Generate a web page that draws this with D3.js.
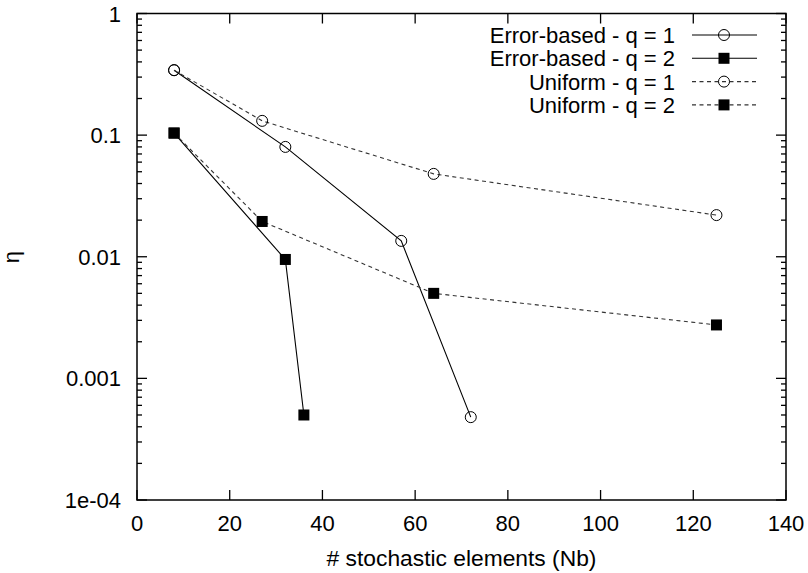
<!DOCTYPE html>
<html>
<head>
<meta charset="utf-8">
<script src="https://cdn.jsdelivr.net/npm/d3@7"></script>
<style>
body { margin: 0; background: #fff; }
svg { font-family: "Liberation Sans", Arial, sans-serif; }
</style>
</head>
<body>
<div id="chart"></div>
<script>
// data
var errQ1X = [8, 32, 57, 72];
var errQ1Y = [0.342, 0.080, 0.0135, 0.00048];
var errQ2X = [8, 32, 36];
var errQ2Y = [0.104, 0.0095, 0.0005];
var uniQ1X = [8, 27, 64, 125];
var uniQ1Y = [0.342, 0.131, 0.048, 0.022];
var uniQ2X = [8, 27, 64, 125];
var uniQ2Y = [0.104, 0.0195, 0.005, 0.00275];
var seriesNames = ['Error-based - q = 1', 'Error-based - q = 2', 'Uniform - q = 1', 'Uniform - q = 2'];
var xTicks = [0, 20, 40, 60, 80, 100, 120, 140];
var yTicks = [1e-4, 1e-3, 1e-2, 1e-1, 1];
var yTickLabels = ['1e-04', '0.001', '0.01', '0.1', '1'];

var width = 808, height = 573;
var plotLeft = 137, plotRight = 786, plotTop = 13.5, plotBottom = 500;
var fontSize = 22;

var svg = d3.select('#chart').append('svg')
    .attr('width', width)
    .attr('height', height);

var x = d3.scaleLinear().domain([0, 140]).range([plotLeft, plotRight]);
var y = d3.scaleLog().domain([1e-4, 1]).range([plotBottom, plotTop]);

// minor log ticks
var minor = [];
yTicks.slice(0, -1).forEach(function(d) {
    for (var k = 2; k <= 9; k++) minor.push(d * k);
});

var g = svg.append('g');

// y ticks, left and right
[0, 1].forEach(function(side) {
    var x0 = side ? plotRight : plotLeft;
    var dir = side ? -1 : 1;
    g.selectAll(null)
        .data(yTicks)
        .enter()
        .append('path')
        .attr('stroke', '#000')
        .attr('stroke-width', 1.3)
        .attr('d', function(d) {
            return 'M ' + x0 + ' ' + y(d) + ' L ' + (x0 + dir * 10) + ' ' + y(d);
        });
    g.selectAll(null)
        .data(minor)
        .enter()
        .append('path')
        .attr('stroke', '#000')
        .attr('stroke-width', 1.3)
        .attr('d', function(d) {
            return 'M ' + x0 + ' ' + y(d) + ' L ' + (x0 + dir * 5) + ' ' + y(d);
        });
});

// x ticks, bottom and top
[0, 1].forEach(function(side) {
    var y0 = side ? plotTop : plotBottom;
    var dir = side ? 1 : -1;
    g.selectAll(null)
        .data(xTicks)
        .enter()
        .append('path')
        .attr('stroke', '#000')
        .attr('stroke-width', 1.3)
        .attr('d', function(d) {
            return 'M ' + x(d) + ' ' + y0 + ' L ' + x(d) + ' ' + (y0 + dir * 10);
        });
});

// frame
g.append('rect')
    .attr('x', plotLeft)
    .attr('y', plotTop)
    .attr('width', plotRight - plotLeft)
    .attr('height', plotBottom - plotTop)
    .attr('fill', 'none')
    .attr('stroke', '#000')
    .attr('stroke-width', 1.5);

// tick labels
g.selectAll(null)
    .data(xTicks)
    .enter()
    .append('text')
    .attr('text-anchor', 'middle')
    .attr('x', function(d) { return x(d); })
    .attr('y', plotBottom + 31)
    .attr('font-size', fontSize)
    .text(function(d) { return d; });

g.selectAll(null)
    .data(yTicks)
    .enter()
    .append('text')
    .attr('text-anchor', 'end')
    .attr('x', plotLeft - 16)
    .attr('y', function(d) { return y(d) + 8; })
    .attr('font-size', fontSize)
    .text(function(d, i) { return yTickLabels[i]; });

// axis titles
svg.append('text')
    .attr('text-anchor', 'middle')
    .attr('x', (plotLeft + plotRight) / 2)
    .attr('y', 566)
    .attr('font-size', 22.8)
    .text('# stochastic elements (Nb)');

svg.append('text')
    .attr('text-anchor', 'middle')
    .attr('transform', 'translate(19,257) rotate(-90)')
    .attr('font-size', fontSize)
    .text('η');

// series
var series = [
    { xs: errQ1X, ys: errQ1Y, dash: null, marker: 'circle' },
    { xs: errQ2X, ys: errQ2Y, dash: null, marker: 'square' },
    { xs: uniQ1X, ys: uniQ1Y, dash: '4,3.5', marker: 'circle' },
    { xs: uniQ2X, ys: uniQ2Y, dash: '4,3.5', marker: 'square' }
];

var line = d3.line()
    .x(function(d) { return x(d[0]); })
    .y(function(d) { return y(d[1]); });

function drawMarker(sel, type, cx, cy) {
    if (type === 'circle') {
        sel.append('circle')
            .attr('cx', cx)
            .attr('cy', cy)
            .attr('r', 5.5)
            .attr('fill', 'none')
            .attr('stroke', '#000')
            .attr('stroke-width', 1);
    } else {
        sel.append('rect')
            .attr('x', cx - 5.5)
            .attr('y', cy - 5.5)
            .attr('width', 11)
            .attr('height', 11)
            .attr('fill', '#000');
    }
}

var plot = svg.append('g');
series.forEach(function(s) {
    var pts = s.xs.map(function(d, i) { return [d, s.ys[i]]; });
    plot.append('path')
        .attr('d', line(pts))
        .attr('fill', 'none')
        .attr('stroke', s.dash ? '#333' : '#000')
        .attr('stroke-width', 1.1)
        .attr('stroke-dasharray', s.dash);
    pts.forEach(function(p) {
        drawMarker(plot, s.marker, x(p[0]), y(p[1]));
    });
});

// legend
var legend = svg.append('g');
series.forEach(function(s, i) {
    var ly = 35 + i * 23.3;
    legend.append('text')
        .attr('text-anchor', 'end')
        .attr('x', 675)
        .attr('y', ly + 8)
        .attr('font-size', fontSize)
        .text(seriesNames[i]);
    legend.append('path')
        .attr('d', 'M 692 ' + ly + ' L 757 ' + ly)
        .attr('stroke', s.dash ? '#333' : '#000')
        .attr('stroke-width', 1.1)
        .attr('stroke-dasharray', s.dash);
    drawMarker(legend, s.marker, 724, ly);
});
</script>
</body>
</html>
